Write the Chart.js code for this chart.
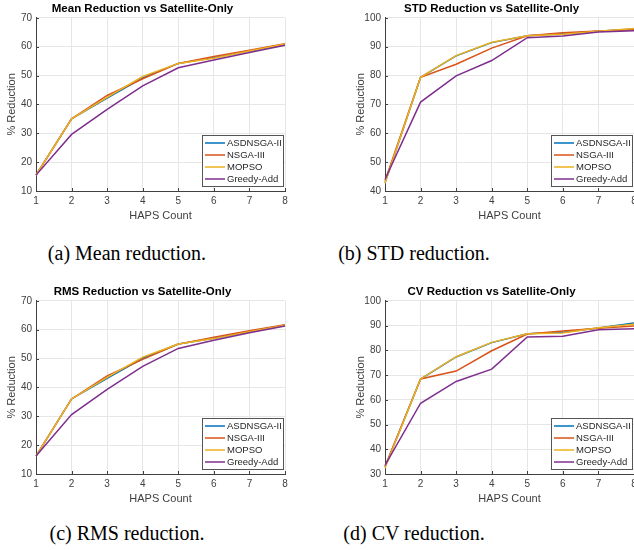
<!DOCTYPE html>
<html lang="en">
<head>
    <meta charset="UTF-8">
    <title>HAPS reduction vs Satellite-Only</title>
    <script src="https://cdn.jsdelivr.net/npm/chart.js"></script>
    <style>
        body { margin: 0; width: 634px; height: 550px; overflow: hidden; position: relative; background: #fff; }
        .panel { position: absolute; width: 300px; height: 225px; }
        .caption { position: absolute; width: 260px; text-align: center; font-family: "Liberation Serif", "Times New Roman", serif; font-size: 20px; color: #000; line-height: 22px; }
    </style>
</head>
<body>
    <div class="panel" style="left:0; top:0;"><canvas id="meanChart" width="300" height="225"></canvas></div>
    <div class="panel" style="left:349px; top:0;"><canvas id="stdChart" width="300" height="225"></canvas></div>
    <div class="panel" style="left:0; top:283px;"><canvas id="rmsChart" width="300" height="225"></canvas></div>
    <div class="panel" style="left:349px; top:283px;"><canvas id="cvChart" width="300" height="225"></canvas></div>

    <div class="caption" style="left:-3px; top:242px;">(a) Mean reduction.</div>
    <div class="caption" style="left:284px; top:242px;">(b) STD reduction.</div>
    <div class="caption" style="left:-3px; top:522px;">(c) RMS reduction.</div>
    <div class="caption" style="left:284px; top:522px;">(d) CV reduction.</div>

    <script>
        // HAPS count on the x axis
        const hapsCount = ['1', '2', '3', '4', '5', '6', '7', '8'];
        const seriesNames = ['ASDNSGA-II', 'NSGA-III', 'MOPSO', 'Greedy-Add'];
        const seriesColors = ['#0072BD', '#D95319', '#EDB120', '#7E2F8E'];

        // Mean reduction (%)
        const meanAsd    = [15.5, 35.0, 42.2, 49.2, 54.2, 56.2, 58.5, 60.8];
        const meanNsga   = [15.5, 35.0, 43.1, 48.9, 54.2, 56.6, 58.8, 61.0];
        const meanMopso  = [15.5, 35.0, 42.4, 49.7, 54.2, 56.0, 58.5, 60.9];
        const meanGreedy = [15.5, 29.6, 38.3, 46.4, 52.7, 55.4, 58.0, 60.5];

        // STD reduction (%)
        const stdAsd    = [42.8, 79.4, 86.8, 91.4, 93.8, 94.5, 95.3, 96.1];
        const stdNsga   = [43.5, 79.4, 83.9, 89.5, 93.8, 94.8, 95.4, 95.9];
        const stdMopso  = [42.7, 79.4, 86.9, 91.5, 93.8, 94.3, 95.3, 96.3];
        const stdGreedy = [44.0, 70.8, 79.9, 85.2, 93.1, 93.7, 95.1, 95.5];

        // RMS reduction (%)
        const rmsAsd    = [16.2, 36.0, 43.1, 50.1, 55.0, 57.0, 59.4, 61.5];
        const rmsNsga   = [16.2, 36.0, 44.0, 49.7, 55.0, 57.4, 59.6, 61.7];
        const rmsMopso  = [16.2, 36.0, 43.5, 50.5, 55.0, 56.9, 59.3, 61.5];
        const rmsGreedy = [16.2, 30.6, 39.3, 47.3, 53.5, 56.3, 58.9, 61.3];

        // CV reduction (%)
        const cvAsd    = [32.8, 68.4, 77.3, 83.1, 86.7, 87.3, 89.0, 91.0];
        const cvNsga   = [33.0, 68.4, 71.6, 79.8, 86.6, 87.8, 88.9, 89.8];
        const cvMopso  = [32.4, 68.4, 77.4, 83.2, 86.7, 87.0, 89.1, 90.5];
        const cvGreedy = [33.5, 58.6, 67.4, 72.4, 85.4, 85.7, 88.3, 88.7];

        const FONT = '"Liberation Sans", Arial, Helvetica, sans-serif';
        const AXIS_COLOR = '#404040';

        // small inward tick marks on the left and bottom axes
        const innerTicks = {
            id: 'innerTicks',
            afterDatasetsDraw(chart) {
                const ctx = chart.ctx;
                const area = chart.chartArea;
                const xs = chart.scales.x, ys = chart.scales.y;
                ctx.save();
                ctx.strokeStyle = AXIS_COLOR;
                ctx.lineWidth = 1;
                ctx.beginPath();
                xs.ticks.forEach((t, i) => {
                    const px = Math.round(xs.getPixelForTick(i)) + 0.5;
                    ctx.moveTo(px, area.bottom);
                    ctx.lineTo(px, area.bottom - 3);
                });
                ys.ticks.forEach((t, i) => {
                    const py = Math.round(ys.getPixelForTick(i)) + 0.5;
                    ctx.moveTo(area.left, py);
                    ctx.lineTo(area.left + 3, py);
                });
                ctx.stroke();
                ctx.restore();
            }
        };

        // legend in the lower right corner of the plot area, MATLAB style
        const cornerLegend = {
            id: 'cornerLegend',
            afterDraw(chart) {
                const ctx = chart.ctx;
                const area = chart.chartArea;
                const sets = chart.data.datasets;
                const w = 81, rowH = 12, h = sets.length * rowH + 3;
                const x0 = area.right - 2 - w;
                const y0 = area.bottom - 5 - h;
                ctx.save();
                ctx.fillStyle = '#fff';
                ctx.fillRect(x0, y0, w, h);
                ctx.strokeStyle = '#555';
                ctx.lineWidth = 1;
                ctx.strokeRect(Math.round(x0) + 0.5, Math.round(y0) + 0.5, w, h);
                ctx.font = '9.5px ' + FONT;
                ctx.textBaseline = 'middle';
                sets.forEach((ds, i) => {
                    const y = y0 + 8 + i * rowH;
                    ctx.strokeStyle = ds.borderColor;
                    ctx.lineWidth = 1.5;
                    ctx.beginPath();
                    ctx.moveTo(x0 + 3, y);
                    ctx.lineTo(x0 + 23, y);
                    ctx.stroke();
                    ctx.fillStyle = '#262626';
                    ctx.fillText(ds.label, x0 + 25, y);
                });
                ctx.restore();
            }
        };

        function makeChart(id, title, series, yMin, yMax) {
            const ctx = document.getElementById(id).getContext('2d');
            return new Chart(ctx, {
                type: 'line',
                data: {
                    labels: hapsCount,
                    datasets: series.map((values, i) => ({
                        label: seriesNames[i],
                        data: values,
                        borderColor: seriesColors[i],
                        backgroundColor: seriesColors[i],
                        borderWidth: 1.5,
                        pointRadius: 0,
                        tension: 0,
                        order: series.length - 1 - i  // later series on top
                    }))
                },
                options: {
                    responsive: false,
                    animation: false,
                    devicePixelRatio: 1,
                    layout: { padding: { left: 0, right: 15, top: 0, bottom: 0 } },
                    plugins: {
                        legend: { display: false },
                        tooltip: { enabled: false },
                        title: {
                            display: true,
                            text: title,
                            color: '#000',
                            font: { family: FONT, size: 11.5, weight: 'bold' },
                            padding: { top: 2, bottom: 2 }
                        }
                    },
                    scales: {
                        x: {
                            offset: false,
                            grid: { color: '#e6e6e6', drawTicks: false, offset: false },
                            border: { color: AXIS_COLOR },
                            ticks: { color: AXIS_COLOR, font: { family: FONT, size: 10 }, padding: 4, maxRotation: 0 },
                            title: {
                                display: true,
                                text: 'HAPS Count',
                                color: AXIS_COLOR,
                                font: { family: FONT, size: 11 },
                                padding: { top: 0, bottom: 2 }
                            },
                            afterFit: (s) => { s.height = 34; }
                        },
                        y: {
                            min: yMin,
                            max: yMax,
                            grid: { color: '#e6e6e6', drawTicks: false },
                            border: { color: AXIS_COLOR },
                            ticks: { stepSize: 10, color: AXIS_COLOR, font: { family: FONT, size: 10 }, padding: 4 },
                            title: {
                                display: true,
                                text: '% Reduction',
                                color: AXIS_COLOR,
                                font: { family: FONT, size: 11 },
                                padding: { top: 5, bottom: 0 }
                            },
                            afterFit: (s) => { s.width = 36; }
                        }
                    }
                },
                plugins: [innerTicks, cornerLegend]
            });
        }

        makeChart('meanChart', 'Mean Reduction vs Satellite-Only', [meanAsd, meanNsga, meanMopso, meanGreedy], 10, 70);
        makeChart('stdChart', 'STD Reduction vs Satellite-Only', [stdAsd, stdNsga, stdMopso, stdGreedy], 40, 100);
        makeChart('rmsChart', 'RMS Reduction vs Satellite-Only', [rmsAsd, rmsNsga, rmsMopso, rmsGreedy], 10, 70);
        makeChart('cvChart', 'CV Reduction vs Satellite-Only', [cvAsd, cvNsga, cvMopso, cvGreedy], 30, 100);
    </script>
</body>
</html>
